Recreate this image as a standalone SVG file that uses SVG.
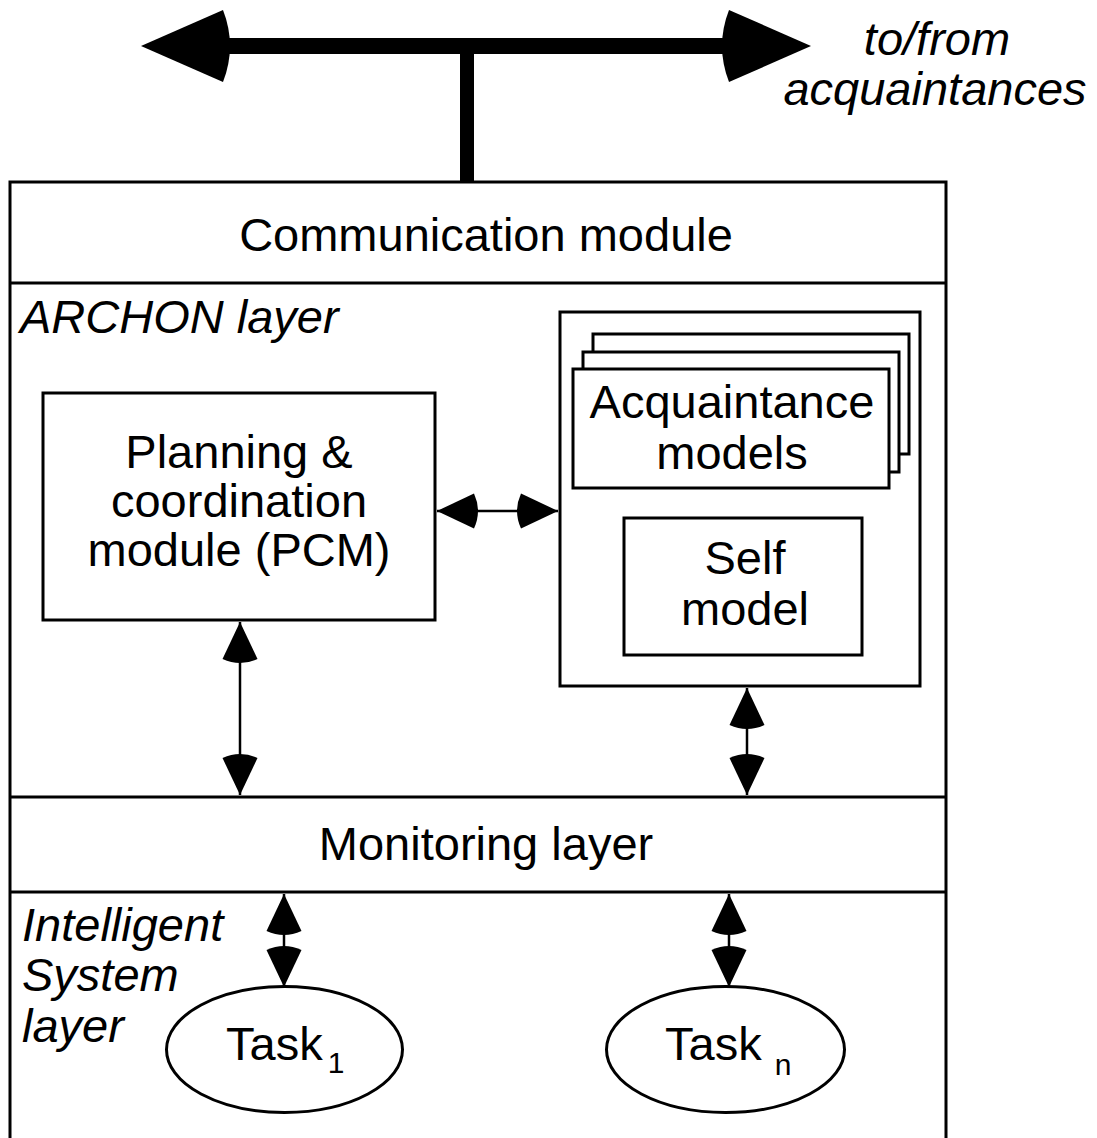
<svg xmlns="http://www.w3.org/2000/svg" width="1097" height="1138" viewBox="0 0 1097 1138">
<style>
.box{fill:none;stroke:#000;stroke-width:3}
.wbox{fill:#fff;stroke:#000;stroke-width:3}
.t{font-family:"Liberation Sans",Arial,Helvetica,sans-serif;font-size:47px;fill:#000}
.c{text-anchor:middle}
.i{font-style:italic}
.con{stroke:#000;stroke-width:2.5;fill:none}
</style>
<defs>
<marker id="ah" markerUnits="userSpaceOnUse" viewBox="-48 -20 52 40" markerWidth="52" markerHeight="40" refX="0" refY="0" orient="auto-start-reverse">
<path d="M0,0 L-37,-17.5 Q-45,0 -37,17.5 Z" fill="#000"/>
</marker>
<marker id="bh" markerUnits="userSpaceOnUse" viewBox="-100 -40 104 80" markerWidth="104" markerHeight="80" refX="-82" refY="0" orient="auto-start-reverse">
<path d="M0,0 L-82,-36 Q-96,0 -82,36 Z" fill="#000"/>
</marker>
</defs>

<g id="outer">
<path class="box" d="M10,1142 V182 H946 V1142"/>
</g>
<g id="communication">
<line class="box" x1="10" y1="283" x2="946" y2="283"/>
<text class="t c" x="486" y="251">Communication module</text>
</g>
<g id="archon-label">
<text class="t i" x="20" y="333">ARCHON layer</text>
</g>
<g id="pcm">
<rect class="box" x="43" y="393" width="392" height="227"/>
<text class="t c" x="239" y="468">Planning &amp;</text>
<text class="t c" x="239" y="517">coordination</text>
<text class="t c" x="239" y="566">module (PCM)</text>
</g>
<g id="models">
<rect class="box" x="560" y="312" width="360" height="374"/>
<rect class="wbox" x="593" y="334" width="316" height="120"/>
<rect class="wbox" x="583" y="352" width="316" height="120"/>
<rect class="wbox" x="573" y="369" width="316" height="119"/>
<text class="t c" x="732" y="418">Acquaintance</text>
<text class="t c" x="732" y="469">models</text>
</g>
<g id="self">
<rect class="box" x="624" y="518" width="238" height="137"/>
<text class="t c" x="745" y="574">Self</text>
<text class="t c" x="745" y="625">model</text>
</g>
<g id="monitoring">
<line class="box" x1="10" y1="797" x2="946" y2="797"/>
<line class="box" x1="10" y1="892" x2="946" y2="892"/>
<text class="t c" x="486" y="860">Monitoring layer</text>
</g>
<g id="is-label">
<text class="t i" x="22" y="941">Intelligent</text>
<text class="t i" x="22" y="991">System</text>
<text class="t i" x="22" y="1042">layer</text>
</g>
<g id="task1">
<ellipse class="box" cx="284.5" cy="1049.5" rx="118" ry="63"/>
<text class="t" x="226" y="1060">Task<tspan font-size="30" dx="5" dy="13">1</tspan></text>
</g>
<g id="taskn">
<ellipse class="box" cx="725.5" cy="1049.5" rx="119" ry="63"/>
<text class="t" x="665" y="1060">Task<tspan font-size="30" dx="13" dy="15">n</tspan></text>
</g>
<g id="acq-label">
<text class="t i c" x="937" y="55">to/from</text>
<text class="t i c" x="935" y="105">acquaintances</text>
</g>

<g id="connectors">
<line x1="223" y1="46" x2="729" y2="46" stroke="#000" stroke-width="16" marker-start="url(#bh)" marker-end="url(#bh)"/>
<line x1="467" y1="46" x2="467" y2="182" stroke="#000" stroke-width="14"/>
<line class="con" x1="437" y1="511" x2="558" y2="511" marker-start="url(#ah)" marker-end="url(#ah)"/>
<line class="con" x1="240" y1="622" x2="240" y2="795" marker-start="url(#ah)" marker-end="url(#ah)"/>
<line class="con" x1="747" y1="688" x2="747" y2="795" marker-start="url(#ah)" marker-end="url(#ah)"/>
<line class="con" x1="284" y1="894" x2="284" y2="987" marker-start="url(#ah)" marker-end="url(#ah)"/>
<line class="con" x1="729" y1="894" x2="729" y2="987" marker-start="url(#ah)" marker-end="url(#ah)"/>
</g>
</svg>
